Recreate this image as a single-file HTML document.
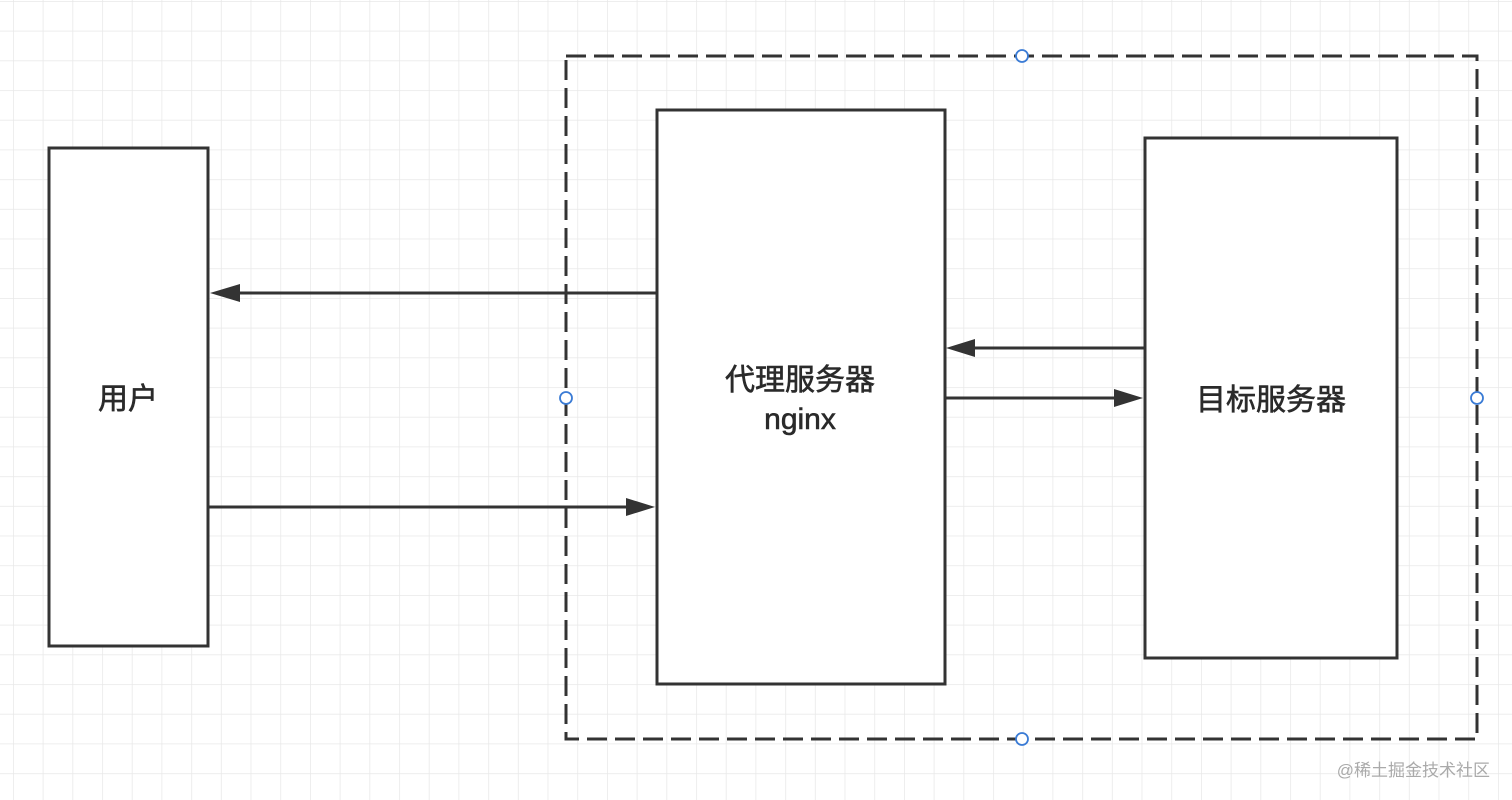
<!DOCTYPE html>
<html><head><meta charset="utf-8"><style>
html,body{margin:0;padding:0;background:#fff;}
svg{display:block}
</style></head><body>
<svg width="1512" height="800" viewBox="0 0 1512 800" xmlns="http://www.w3.org/2000/svg">
<defs>
<pattern id="g" x="13" y="1" width="29.7" height="29.7" patternUnits="userSpaceOnUse">
<path d="M0 0H29.7M0 0V29.7" stroke="#e8e8e8" stroke-width="1.5" fill="none"/>
</pattern>
</defs>
<rect width="1512" height="800" fill="url(#g)"/>
<rect x="566" y="56" width="911" height="683" fill="none" stroke="#333" stroke-width="3" stroke-dasharray="20 8"/>
<rect x="49" y="148" width="159" height="498" fill="#fff" stroke="#333" stroke-width="3"/>
<rect x="657" y="110" width="288" height="574" fill="#fff" stroke="#333" stroke-width="3"/>
<rect x="1145" y="138" width="252" height="520" fill="#fff" stroke="#333" stroke-width="3"/>
<g stroke="#333" stroke-width="3">
<line x1="656" y1="293" x2="235" y2="293"/>
<line x1="209" y1="507" x2="630" y2="507"/>
<line x1="1144" y1="348" x2="972" y2="348"/>
<line x1="946" y1="398" x2="1118" y2="398"/>
</g>
<g fill="#333">
<polygon points="210,293 240,284 240,302"/>
<polygon points="655,507 626,498 626,516"/>
<polygon points="946,348 975,339 975,357"/>
<polygon points="1143,398 1114,389 1114,407"/>
</g>
<g fill="#fff" stroke="#3a7bd5" stroke-width="1.8">
<circle cx="1022" cy="56" r="6"/>
<circle cx="566" cy="398" r="6"/>
<circle cx="1477" cy="398" r="6"/>
<circle cx="1022" cy="739" r="6"/>
</g>
<g font-family="Liberation Sans, Noto Sans CJK SC, sans-serif" font-size="30" fill="#2a2a2a" stroke="#2a2a2a" stroke-width="0.6" text-anchor="middle">
<text x="128" y="409">用户</text>
<text x="800" y="390">代理服务器</text>
<text x="800" y="429">nginx</text>
<text x="1271" y="410">目标服务器</text>
</g>
<text x="1490" y="776" font-family="Liberation Sans, Noto Sans CJK SC, sans-serif" font-size="17" fill="#aaa" text-anchor="end">@稀土掘金技术社区</text>
</svg>
</body></html>
